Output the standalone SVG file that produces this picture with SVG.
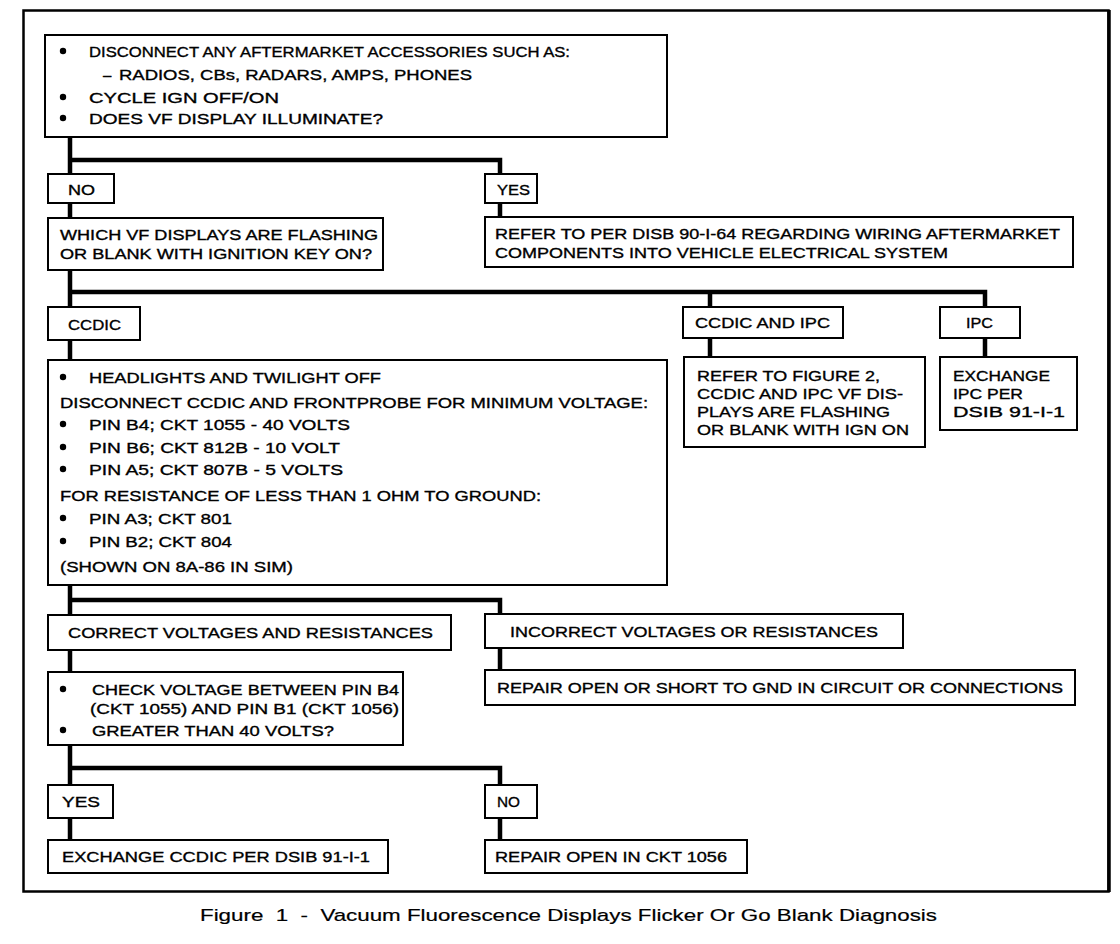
<svg xmlns="http://www.w3.org/2000/svg" width="1120" height="944" viewBox="0 0 1120 944">
<style>
.b{fill:#fff;stroke:#000;stroke-width:2}
.t{font-family:"Liberation Sans",Arial,sans-serif;font-size:15px;fill:#000;stroke:#000;stroke-width:0.35}
.c{fill:none;stroke:#000;stroke-width:4.5;stroke-linejoin:miter}
.cap{font-family:"Liberation Sans",Arial,sans-serif;font-size:17px;fill:#000;stroke:#000;stroke-width:0.2;white-space:pre}
</style>
<rect width="1120" height="944" fill="#fff"/>
<rect x="23.5" y="10.5" width="1085" height="881" fill="none" stroke="#000" stroke-width="2.5"/>
<line x1="1109" y1="10" x2="1109" y2="892" stroke="#000" stroke-width="3.5"/>
<g id="connectors">
<path class="c" d="M70 137 V218 M70 160 H500 V217"/>
<path class="c" d="M70 270 V360 M70 292 H985 V307 M710 292 V357 M985 338 V357"/>
<path class="c" d="M70 585 V672 M70 600 H500 V670"/>
<path class="c" d="M70 745 V840 M70 768 H500 V840"/>
</g>
<g id="n1">
<rect class="b" x="45" y="35" width="622" height="102"/>
<circle cx="63" cy="51" r="3.2"/>
<text class="t" x="89" y="56.5" textLength="481" lengthAdjust="spacingAndGlyphs">DISCONNECT ANY AFTERMARKET ACCESSORIES SUCH AS:</text>
<text class="t" x="103" y="79.5">–</text>
<text class="t" x="119" y="79.5" textLength="353" lengthAdjust="spacingAndGlyphs">RADIOS, CBs, RADARS, AMPS, PHONES</text>
<circle cx="63" cy="97" r="3.2"/>
<text class="t" x="89" y="102.5" textLength="190" lengthAdjust="spacingAndGlyphs">CYCLE IGN OFF/ON</text>
<circle cx="63" cy="118" r="3.2"/>
<text class="t" x="89" y="123.5" textLength="294" lengthAdjust="spacingAndGlyphs">DOES VF DISPLAY ILLUMINATE?</text>
</g>
<g id="no1">
<rect class="b" x="48" y="174" width="66" height="29"/>
<text class="t" x="68" y="194.5" textLength="27" lengthAdjust="spacingAndGlyphs">NO</text>
</g>
<g id="yes1">
<rect class="b" x="485" y="174" width="52" height="29"/>
<text class="t" x="497" y="194.5" textLength="33" lengthAdjust="spacingAndGlyphs">YES</text>
</g>
<g id="n2">
<rect class="b" x="48" y="218" width="335" height="52"/>
<text class="t" x="60" y="239.5" textLength="318" lengthAdjust="spacingAndGlyphs">WHICH VF DISPLAYS ARE FLASHING</text>
<text class="t" x="60" y="258.5" textLength="312" lengthAdjust="spacingAndGlyphs">OR BLANK WITH IGNITION KEY ON?</text>
</g>
<g id="n3">
<rect class="b" x="485" y="217" width="588" height="50"/>
<text class="t" x="495" y="238.5" textLength="565" lengthAdjust="spacingAndGlyphs">REFER TO PER DISB 90-I-64 REGARDING WIRING AFTERMARKET</text>
<text class="t" x="495" y="257.5" textLength="453" lengthAdjust="spacingAndGlyphs">COMPONENTS INTO VEHICLE ELECTRICAL SYSTEM</text>
</g>
<g id="ccdic">
<rect class="b" x="48" y="307" width="92" height="33"/>
<text class="t" x="68" y="329.5" textLength="53" lengthAdjust="spacingAndGlyphs">CCDIC</text>
</g>
<g id="ccdicipc">
<rect class="b" x="683" y="307" width="160" height="31"/>
<text class="t" x="695" y="327.5" textLength="135" lengthAdjust="spacingAndGlyphs">CCDIC AND IPC</text>
</g>
<g id="ipc">
<rect class="b" x="940" y="307" width="80" height="31"/>
<text class="t" x="966" y="327.5" textLength="27" lengthAdjust="spacingAndGlyphs">IPC</text>
</g>
<g id="n4">
<rect class="b" x="684" y="357" width="241" height="90"/>
<text class="t" x="697" y="380.5" textLength="183" lengthAdjust="spacingAndGlyphs">REFER TO FIGURE 2,</text>
<text class="t" x="697" y="398.5" textLength="206" lengthAdjust="spacingAndGlyphs">CCDIC AND IPC VF DIS-</text>
<text class="t" x="697" y="416.5" textLength="193" lengthAdjust="spacingAndGlyphs">PLAYS ARE FLASHING</text>
<text class="t" x="697" y="434.5" textLength="212" lengthAdjust="spacingAndGlyphs">OR BLANK WITH IGN ON</text>
</g>
<g id="n5">
<rect class="b" x="940" y="357" width="137" height="73"/>
<text class="t" x="953" y="380.5" textLength="97" lengthAdjust="spacingAndGlyphs">EXCHANGE</text>
<text class="t" x="953" y="398.5" textLength="70" lengthAdjust="spacingAndGlyphs">IPC PER</text>
<text class="t" x="953" y="416.5" textLength="112" lengthAdjust="spacingAndGlyphs">DSIB 91-I-1</text>
</g>
<g id="n6">
<rect class="b" x="48" y="360" width="619" height="225"/>
<circle cx="63" cy="377" r="3.2"/>
<text class="t" x="89" y="382.5" textLength="292" lengthAdjust="spacingAndGlyphs">HEADLIGHTS AND TWILIGHT OFF</text>
<text class="t" x="60" y="407.5" textLength="588" lengthAdjust="spacingAndGlyphs">DISCONNECT CCDIC AND FRONTPROBE FOR MINIMUM VOLTAGE:</text>
<circle cx="63" cy="424" r="3.2"/>
<text class="t" x="89" y="429.5" textLength="261" lengthAdjust="spacingAndGlyphs">PIN B4; CKT 1055 - 40 VOLTS</text>
<circle cx="63" cy="447" r="3.2"/>
<text class="t" x="89" y="452.5" textLength="251" lengthAdjust="spacingAndGlyphs">PIN B6; CKT 812B - 10 VOLT</text>
<circle cx="63" cy="469" r="3.2"/>
<text class="t" x="89" y="474.5" textLength="254" lengthAdjust="spacingAndGlyphs">PIN A5; CKT 807B - 5 VOLTS</text>
<text class="t" x="60" y="500.5" textLength="481" lengthAdjust="spacingAndGlyphs">FOR RESISTANCE OF LESS THAN 1 OHM TO GROUND:</text>
<circle cx="63" cy="518" r="3.2"/>
<text class="t" x="89" y="523.5" textLength="143" lengthAdjust="spacingAndGlyphs">PIN A3; CKT 801</text>
<circle cx="63" cy="541" r="3.2"/>
<text class="t" x="89" y="546.5" textLength="143" lengthAdjust="spacingAndGlyphs">PIN B2; CKT 804</text>
<text class="t" x="60" y="571.5" textLength="233" lengthAdjust="spacingAndGlyphs">(SHOWN ON 8A-86 IN SIM)</text>
</g>
<g id="n7">
<rect class="b" x="48" y="615" width="403" height="35"/>
<text class="t" x="68" y="637.5" textLength="365" lengthAdjust="spacingAndGlyphs">CORRECT VOLTAGES AND RESISTANCES</text>
</g>
<g id="n8">
<rect class="b" x="485" y="614" width="418" height="34"/>
<text class="t" x="510" y="636.5" textLength="368" lengthAdjust="spacingAndGlyphs">INCORRECT VOLTAGES OR RESISTANCES</text>
</g>
<g id="n9">
<rect class="b" x="485" y="670" width="590" height="35"/>
<text class="t" x="497" y="692.5" textLength="566" lengthAdjust="spacingAndGlyphs">REPAIR OPEN OR SHORT TO GND IN CIRCUIT OR CONNECTIONS</text>
</g>
<g id="n10">
<rect class="b" x="48" y="672" width="355" height="73"/>
<circle cx="63" cy="689" r="3.2"/>
<text class="t" x="92" y="694.5" textLength="307" lengthAdjust="spacingAndGlyphs">CHECK VOLTAGE BETWEEN PIN B4</text>
<text class="t" x="90" y="713.5" textLength="309" lengthAdjust="spacingAndGlyphs">(CKT 1055) AND PIN B1 (CKT 1056)</text>
<circle cx="63" cy="730" r="3.2"/>
<text class="t" x="92" y="735.5" textLength="242" lengthAdjust="spacingAndGlyphs">GREATER THAN 40 VOLTS?</text>
</g>
<g id="yes2">
<rect class="b" x="48" y="785" width="65" height="33"/>
<text class="t" x="62" y="806.5" textLength="38" lengthAdjust="spacingAndGlyphs">YES</text>
</g>
<g id="no2">
<rect class="b" x="485" y="785" width="52" height="33"/>
<text class="t" x="497" y="806.5" textLength="23" lengthAdjust="spacingAndGlyphs">NO</text>
</g>
<g id="n11">
<rect class="b" x="48" y="840" width="340" height="33"/>
<text class="t" x="62" y="861.5" textLength="308" lengthAdjust="spacingAndGlyphs">EXCHANGE CCDIC PER DSIB 91-I-1</text>
</g>
<g id="n12">
<rect class="b" x="485" y="840" width="262" height="33"/>
<text class="t" x="495" y="861.5" textLength="232" lengthAdjust="spacingAndGlyphs">REPAIR OPEN IN CKT 1056</text>
</g>
<text class="cap" x="200" y="921" textLength="737" lengthAdjust="spacingAndGlyphs">Figure  1  -  Vacuum Fluorescence Displays Flicker Or Go Blank Diagnosis</text>
</svg>
